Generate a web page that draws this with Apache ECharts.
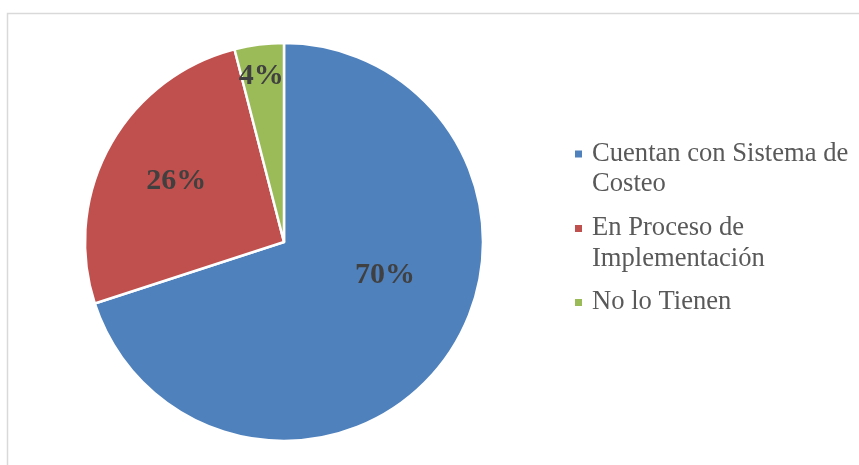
<!DOCTYPE html>
<html>
<head>
<meta charset="utf-8">
<script src="https://cdn.jsdelivr.net/npm/echarts@6/dist/echarts.min.js"></script>
<style>html,body{margin:0;padding:0;background:#fff;}#c{width:859px;height:465px;}</style>
</head>
<body>
<div id="c"></div>
<script>
const categories = ['Cuentan con Sistema de Costeo', 'En Proceso de Implementación', 'No lo Tienen'];
const legendLabels = ['Cuentan con Sistema de\nCosteo', 'En Proceso de\nImplementación', 'No lo Tienen'];
const values = [70, 26, 4];
const colors = ['#4F81BD', '#C0504D', '#9BBB59'];
const labelOffsets = [[18, -27], [-18, -11], [-10, -64]];
const legendIconCenters = [154, 228.5, 302.5];

const chart = echarts.init(document.getElementById('c'), null, {renderer: 'canvas'});
const legends = categories.map((name, i) => {
  const twoLine = legendLabels[i].indexOf('\n') >= 0;
  return {
    orient: 'vertical',
    left: 575,
    top: legendIconCenters[i] - (twoLine ? 45.75 : 15.25),
    padding: 0,
    itemWidth: 7,
    itemHeight: 7,
    icon: 'rect',
    selectedMode: false,
    itemStyle: {borderWidth: 0, borderColor: colors[i]},
    data: [{name: name, itemStyle: {color: colors[i], borderWidth: 0, borderColor: colors[i]}}],
    formatter: () => (twoLine ? ' \n' : '') + legendLabels[i],
    textStyle: {
      color: '#595959',
      fontFamily: 'Liberation Serif',
      fontSize: 26.6,
      lineHeight: 30.5,
      padding: [0, 0, 0, 5]
    }
  };
});
chart.setOption({
  animation: false,
  backgroundColor: '#fff',
  graphic: [{
    type: 'rect', silent: true,
    shape: {x: 7.5, y: 13.5, width: 900, height: 500},
    style: {fill: 'none', stroke: '#d9d9d9', lineWidth: 1.5}
  }],
  legend: legends,
  series: [{
    type: 'pie',
    center: [284, 242],
    radius: 199,
    startAngle: 90,
    clockwise: true,
    avoidLabelOverlap: false,
    itemStyle: {borderColor: '#fff', borderWidth: 2.5},
    label: {
      show: true,
      position: 'inside',
      color: '#404040',
      fontFamily: 'Liberation Serif',
      fontWeight: 'bold',
      fontSize: 30
    },
    labelLine: {show: false},
    emphasis: {disabled: true},
    data: categories.map((name, i) => ({
      name: name,
      value: values[i],
      itemStyle: {color: colors[i]},
      label: {offset: labelOffsets[i], formatter: values[i] + '%'}
    }))
  }]
});
</script>
</body>
</html>
